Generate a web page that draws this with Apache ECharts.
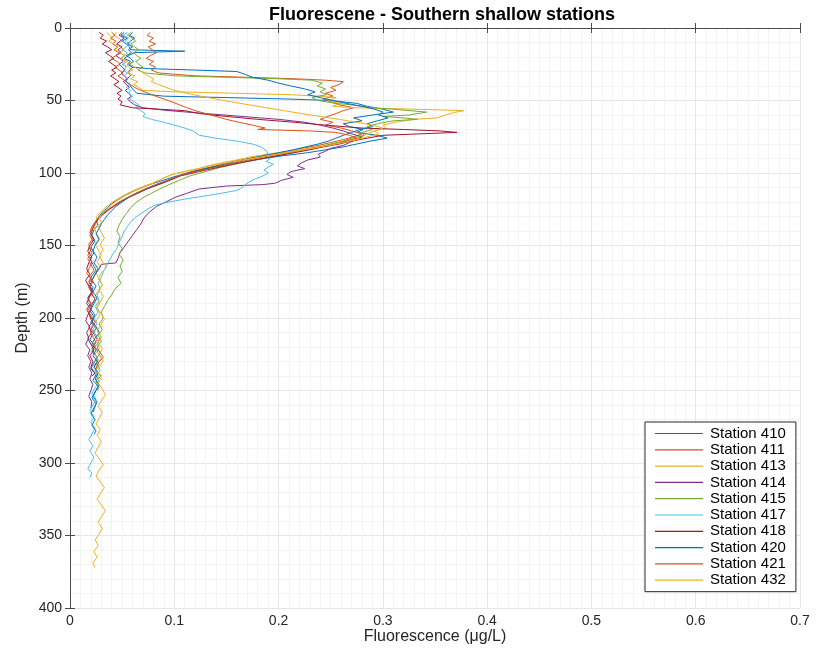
<!DOCTYPE html>
<html><head><meta charset="utf-8">
<script src="https://cdn.jsdelivr.net/npm/echarts@6/dist/echarts.min.js"></script>
<style>html,body{margin:0;padding:0;background:#fff}#c{width:822px;height:661px}</style>
</head><body><div id="c"></div>
<script>
const stationNames = ["Station 410","Station 411","Station 413","Station 414","Station 415","Station 417","Station 418","Station 420","Station 421","Station 432"];
const stationColors = ["#0072BD","#D95319","#EDB120","#7E2F8E","#77AC30","#4DBEEE","#A2142F","#0072BD","#D95319","#EDB120"];
const xTicks = [0,0.1,0.2,0.3,0.4,0.5,0.6,0.7];
const yTicks = [0,50,100,150,200,250,300,350,400];

// [fluorescence, depth]
const st410 = [[0.052,3],[0.049,5],[0.055,7],[0.050,9],[0.054,11],[0.057,13],[0.058,15],[0.110,16],[0.062,17],[0.056,19],[0.052,21],[0.058,23],[0.055,25],[0.060,27],[0.056,30],[0.058,33],[0.053,36],[0.057,39],[0.060,42],[0.064,45],[0.090,47],[0.150,48],[0.210,49],[0.250,50],[0.275,52],[0.285,54],[0.300,56],[0.310,58],[0.290,60],[0.272,62],[0.280,64],[0.262,66],[0.268,68],[0.281,70],[0.275,72],[0.295,74],[0.304,76],[0.288,78],[0.275,80],[0.262,82],[0.245,84],[0.228,86],[0.205,88],[0.186,90],[0.170,92],[0.152,94],[0.138,96],[0.122,98],[0.112,100],[0.098,103],[0.085,106],[0.072,109],[0.062,112],[0.054,115],[0.047,118],[0.040,121],[0.036,124],[0.031,127],[0.028,130],[0.025,133],[0.027,136],[0.023,139],[0.021,143],[0.024,147],[0.020,151],[0.023,155],[0.019,159],[0.022,163],[0.025,167],[0.021,171],[0.018,175],[0.022,179],[0.020,183],[0.024,187],[0.021,191],[0.019,195],[0.023,199],[0.020,203],[0.025,207],[0.022,211],[0.019,215],[0.024,219],[0.021,223],[0.026,227],[0.023,231],[0.020,235],[0.025,239],[0.022,243],[0.027,247],[0.024,251],[0.021,255],[0.025,259],[0.023,263],[0.022,265]];
const st411 = [[0.077,3],[0.074,5],[0.080,7],[0.076,9],[0.082,11],[0.075,13],[0.079,15],[0.083,17],[0.077,19],[0.073,21],[0.080,23],[0.076,25],[0.082,27],[0.078,29],[0.085,31],[0.120,33],[0.170,34],[0.215,35],[0.245,36],[0.262,37],[0.258,39],[0.250,41],[0.255,43],[0.245,45],[0.252,47],[0.243,49],[0.250,51],[0.258,53],[0.272,55],[0.262,57],[0.255,59],[0.247,61],[0.240,63],[0.252,65],[0.245,67],[0.260,69],[0.270,71],[0.280,73],[0.272,75],[0.262,77],[0.250,79],[0.238,81],[0.222,83],[0.210,85],[0.195,87],[0.178,89],[0.165,91],[0.150,93],[0.140,95],[0.128,97],[0.118,99],[0.108,101],[0.098,104],[0.088,107],[0.076,110],[0.066,113],[0.058,116],[0.050,119],[0.044,122],[0.037,125],[0.032,128],[0.027,131],[0.024,134],[0.021,137],[0.019,141],[0.022,145],[0.018,149],[0.020,153],[0.017,157],[0.021,161],[0.019,165],[0.016,169],[0.020,173],[0.018,177],[0.022,181],[0.019,185],[0.017,189],[0.021,193],[0.018,197],[0.020,201],[0.023,205],[0.019,209],[0.022,213],[0.025,217],[0.021,221],[0.024,225],[0.027,229],[0.023,233],[0.026,237],[0.030,240],[0.025,243],[0.027,245]];
const st413 = [[0.045,3],[0.042,5],[0.047,7],[0.050,9],[0.044,11],[0.048,13],[0.052,15],[0.047,17],[0.053,19],[0.049,21],[0.055,23],[0.051,25],[0.056,27],[0.060,29],[0.055,31],[0.062,33],[0.058,35],[0.065,37],[0.061,39],[0.066,41],[0.070,43],[0.100,44],[0.160,45],[0.210,46],[0.240,47],[0.255,48],[0.248,50],[0.258,52],[0.252,54],[0.275,55],[0.330,56],[0.378,57],[0.370,58],[0.360,60],[0.352,62],[0.330,63],[0.312,65],[0.300,67],[0.303,69],[0.292,71],[0.285,73],[0.280,75],[0.270,77],[0.258,79],[0.245,81],[0.228,83],[0.210,85],[0.190,87],[0.172,89],[0.160,91],[0.145,93],[0.132,95],[0.124,97],[0.110,99],[0.098,101],[0.088,104],[0.079,107],[0.068,110],[0.058,113],[0.050,116],[0.043,119],[0.037,122],[0.032,125],[0.028,128],[0.025,131],[0.027,134],[0.023,137],[0.025,141],[0.028,145],[0.024,149],[0.027,153],[0.030,157],[0.026,161],[0.029,165],[0.025,169],[0.028,173],[0.031,177],[0.027,181],[0.024,185],[0.028,189],[0.025,193],[0.029,197],[0.026,201],[0.023,205],[0.027,209],[0.030,213],[0.026,217],[0.028,221],[0.024,225],[0.027,229],[0.025,233],[0.026,235]];
const st414 = [[0.050,3],[0.047,5],[0.052,7],[0.048,9],[0.045,11],[0.050,13],[0.046,15],[0.049,17],[0.044,19],[0.048,21],[0.051,23],[0.047,25],[0.050,27],[0.053,29],[0.049,31],[0.052,33],[0.055,35],[0.051,37],[0.054,39],[0.057,41],[0.053,43],[0.056,45],[0.059,47],[0.055,49],[0.058,51],[0.062,53],[0.070,55],[0.095,57],[0.130,59],[0.165,61],[0.200,63],[0.225,65],[0.240,67],[0.252,69],[0.262,71],[0.270,73],[0.280,75],[0.275,77],[0.268,79],[0.262,81],[0.250,83],[0.245,85],[0.238,87],[0.240,89],[0.228,91],[0.222,93],[0.218,95],[0.225,97],[0.212,99],[0.208,101],[0.214,103],[0.203,105],[0.197,107],[0.185,108],[0.150,109],[0.124,111],[0.112,114],[0.100,117],[0.092,120],[0.083,123],[0.076,127],[0.071,131],[0.068,135],[0.064,139],[0.060,143],[0.056,147],[0.052,151],[0.048,155],[0.046,159],[0.044,162],[0.030,163],[0.028,166],[0.024,170],[0.021,174],[0.019,178],[0.022,182],[0.018,186],[0.016,190],[0.020,194],[0.017,198],[0.015,202],[0.019,206],[0.016,210],[0.018,214],[0.015,218],[0.019,222],[0.017,226],[0.020,230],[0.018,234],[0.021,238],[0.019,242],[0.022,246],[0.020,250],[0.018,254],[0.021,258],[0.020,262]];
const st415 = [[0.058,3],[0.055,5],[0.060,7],[0.063,9],[0.058,11],[0.062,13],[0.066,15],[0.061,17],[0.064,19],[0.068,21],[0.063,23],[0.066,25],[0.070,27],[0.065,29],[0.072,31],[0.100,33],[0.150,34],[0.200,35],[0.232,36],[0.242,38],[0.237,40],[0.245,42],[0.240,44],[0.246,46],[0.232,48],[0.238,50],[0.255,52],[0.270,53],[0.290,55],[0.310,56],[0.342,58],[0.325,60],[0.300,61],[0.320,62],[0.333,63],[0.310,64],[0.295,66],[0.285,68],[0.290,70],[0.280,72],[0.282,74],[0.270,76],[0.262,78],[0.250,80],[0.240,82],[0.225,84],[0.212,86],[0.198,88],[0.185,90],[0.170,92],[0.158,94],[0.145,96],[0.135,98],[0.125,100],[0.115,102],[0.105,105],[0.095,108],[0.086,111],[0.078,114],[0.070,117],[0.064,120],[0.058,124],[0.054,128],[0.050,132],[0.047,136],[0.045,140],[0.048,144],[0.046,148],[0.050,152],[0.047,156],[0.051,160],[0.048,164],[0.050,168],[0.046,172],[0.049,176],[0.043,180],[0.040,184],[0.036,188],[0.033,192],[0.030,196],[0.032,200],[0.028,204],[0.031,208],[0.027,212],[0.030,216],[0.026,220],[0.029,224],[0.025,228],[0.028,232],[0.024,236],[0.027,240],[0.025,244],[0.028,248],[0.026,250]];
const st417 = [[0.055,3],[0.051,5],[0.056,7],[0.053,9],[0.057,11],[0.054,13],[0.050,15],[0.055,17],[0.052,19],[0.049,21],[0.053,23],[0.050,25],[0.054,27],[0.051,29],[0.055,31],[0.052,33],[0.056,35],[0.053,37],[0.057,39],[0.054,41],[0.058,43],[0.056,45],[0.060,47],[0.057,49],[0.062,51],[0.066,53],[0.063,55],[0.068,57],[0.072,59],[0.070,61],[0.078,63],[0.090,65],[0.100,67],[0.110,69],[0.118,71],[0.124,74],[0.140,76],[0.160,78],[0.175,80],[0.183,82],[0.187,84],[0.190,86],[0.186,88],[0.192,90],[0.188,92],[0.195,94],[0.190,96],[0.186,98],[0.190,100],[0.185,102],[0.178,104],[0.172,106],[0.168,108],[0.165,110],[0.160,112],[0.145,114],[0.128,116],[0.110,118],[0.095,120],[0.082,122],[0.074,125],[0.068,128],[0.062,131],[0.058,134],[0.055,137],[0.052,140],[0.050,144],[0.047,148],[0.045,152],[0.041,156],[0.038,160],[0.035,164],[0.032,168],[0.030,172],[0.027,176],[0.029,180],[0.026,184],[0.028,188],[0.024,192],[0.027,196],[0.023,200],[0.026,204],[0.022,208],[0.025,212],[0.028,216],[0.024,220],[0.027,224],[0.030,228],[0.026,232],[0.029,236],[0.025,240],[0.028,244],[0.024,248],[0.021,252],[0.025,256],[0.022,260],[0.019,264],[0.023,268],[0.020,272],[0.024,276],[0.021,280],[0.018,284],[0.022,288],[0.019,292],[0.023,296],[0.020,300],[0.017,304],[0.021,307],[0.019,310]];
const st418 = [[0.028,3],[0.032,5],[0.029,7],[0.035,9],[0.031,11],[0.036,13],[0.040,15],[0.034,17],[0.038,19],[0.042,21],[0.037,23],[0.041,25],[0.045,27],[0.040,29],[0.044,31],[0.039,33],[0.043,35],[0.047,37],[0.042,39],[0.046,41],[0.050,43],[0.045,45],[0.049,47],[0.046,49],[0.050,51],[0.048,53],[0.060,55],[0.085,56],[0.110,57],[0.124,59],[0.150,61],[0.180,63],[0.215,65],[0.245,67],[0.280,69],[0.320,70],[0.355,71],[0.371,72],[0.335,73],[0.300,74],[0.285,76],[0.270,78],[0.258,80],[0.243,82],[0.230,84],[0.215,86],[0.200,88],[0.184,90],[0.170,92],[0.156,94],[0.143,96],[0.130,98],[0.118,100],[0.106,102],[0.096,105],[0.085,108],[0.074,111],[0.065,114],[0.056,117],[0.048,120],[0.042,123],[0.036,126],[0.031,129],[0.027,132],[0.024,135],[0.022,138],[0.020,142],[0.023,146],[0.019,150],[0.017,154],[0.021,158],[0.018,162],[0.016,166],[0.019,170],[0.015,174],[0.018,178],[0.021,182],[0.017,186],[0.020,190],[0.016,194],[0.019,198],[0.022,202],[0.018,206],[0.021,210],[0.017,214],[0.020,218],[0.023,222],[0.019,226],[0.022,230],[0.020,234],[0.024,238],[0.021,240]];
const st420 = [[0.060,3],[0.057,5],[0.062,7],[0.058,9],[0.055,11],[0.060,13],[0.056,15],[0.059,17],[0.054,19],[0.058,21],[0.061,23],[0.057,25],[0.060,27],[0.075,28],[0.120,29],[0.160,30],[0.168,32],[0.175,34],[0.190,36],[0.200,38],[0.212,40],[0.225,42],[0.235,44],[0.228,46],[0.240,48],[0.252,50],[0.265,52],[0.280,54],[0.292,56],[0.300,58],[0.296,60],[0.305,62],[0.295,64],[0.285,66],[0.290,68],[0.278,70],[0.270,72],[0.262,74],[0.255,76],[0.248,78],[0.238,80],[0.226,82],[0.214,84],[0.200,86],[0.186,88],[0.172,90],[0.160,92],[0.148,94],[0.136,96],[0.125,98],[0.114,100],[0.104,102],[0.094,105],[0.083,108],[0.073,111],[0.064,114],[0.056,117],[0.050,120],[0.044,123],[0.040,126],[0.036,129],[0.033,132],[0.030,135],[0.028,138],[0.025,142],[0.028,146],[0.024,150],[0.022,154],[0.026,158],[0.023,162],[0.027,166],[0.024,170],[0.021,174],[0.025,178],[0.022,182],[0.026,186],[0.023,190],[0.020,194],[0.024,198],[0.021,202],[0.025,206],[0.028,210],[0.024,214],[0.021,218],[0.025,222],[0.022,226],[0.026,230],[0.023,234],[0.027,238],[0.024,242],[0.028,246],[0.025,250],[0.022,254],[0.026,258],[0.023,262],[0.020,266],[0.024,270],[0.021,274],[0.025,278],[0.023,280]];
const st421 = [[0.040,3],[0.043,5],[0.039,7],[0.044,9],[0.041,11],[0.046,13],[0.042,15],[0.047,17],[0.044,19],[0.040,21],[0.045,23],[0.048,25],[0.043,27],[0.047,29],[0.051,31],[0.046,33],[0.050,35],[0.054,37],[0.058,39],[0.062,41],[0.068,43],[0.075,45],[0.082,47],[0.090,49],[0.098,51],[0.105,53],[0.112,55],[0.120,57],[0.130,59],[0.140,61],[0.150,63],[0.162,65],[0.175,67],[0.187,69],[0.180,70],[0.230,71],[0.255,72],[0.268,74],[0.275,76],[0.265,78],[0.255,80],[0.240,82],[0.225,84],[0.208,86],[0.192,88],[0.178,90],[0.165,92],[0.152,94],[0.140,96],[0.128,98],[0.115,100],[0.104,102],[0.094,105],[0.082,108],[0.072,111],[0.063,114],[0.055,117],[0.047,120],[0.041,123],[0.035,126],[0.030,129],[0.026,132],[0.023,135],[0.021,139],[0.019,143],[0.022,147],[0.018,151],[0.021,155],[0.017,159],[0.020,163],[0.023,167],[0.019,171],[0.022,175],[0.018,179],[0.021,183],[0.024,187],[0.020,191],[0.017,195],[0.021,199],[0.024,203],[0.020,207],[0.023,211],[0.026,215],[0.022,219],[0.028,223],[0.032,227],[0.027,231],[0.025,235]];
const st432 = [[0.035,3],[0.038,5],[0.041,7],[0.037,9],[0.042,11],[0.046,13],[0.043,15],[0.048,17],[0.052,19],[0.049,21],[0.055,23],[0.058,25],[0.062,27],[0.066,29],[0.070,31],[0.075,33],[0.080,35],[0.078,37],[0.085,39],[0.092,41],[0.100,43],[0.112,45],[0.125,47],[0.140,49],[0.155,51],[0.172,53],[0.188,55],[0.205,57],[0.222,59],[0.240,61],[0.258,63],[0.275,65],[0.290,67],[0.300,69],[0.292,71],[0.296,73],[0.285,75],[0.275,77],[0.262,79],[0.248,81],[0.232,83],[0.215,85],[0.198,87],[0.182,89],[0.166,91],[0.150,93],[0.135,95],[0.122,97],[0.110,99],[0.098,101],[0.088,104],[0.080,107],[0.070,110],[0.060,113],[0.052,116],[0.045,119],[0.040,122],[0.035,125],[0.031,128],[0.028,131],[0.030,134],[0.027,137],[0.030,141],[0.033,145],[0.029,149],[0.032,153],[0.028,157],[0.031,161],[0.035,165],[0.030,169],[0.027,173],[0.031,177],[0.028,181],[0.032,185],[0.029,189],[0.026,193],[0.030,197],[0.033,201],[0.029,205],[0.026,209],[0.030,213],[0.027,217],[0.031,221],[0.028,225],[0.032,229],[0.029,233],[0.026,237],[0.030,241],[0.027,245],[0.031,249],[0.034,253],[0.030,257],[0.027,261],[0.031,265],[0.028,269],[0.025,273],[0.029,277],[0.026,281],[0.030,285],[0.027,289],[0.024,293],[0.028,297],[0.032,301],[0.028,305],[0.025,309],[0.029,313],[0.033,317],[0.029,321],[0.026,325],[0.030,329],[0.034,333],[0.030,337],[0.027,341],[0.031,345],[0.028,349],[0.024,353],[0.027,357],[0.023,361],[0.026,365],[0.022,369],[0.024,372]];

const stationData = [st410,st411,st413,st414,st415,st417,st418,st420,st421,st432];

const FONT = '"Liberation Sans", Arial, Helvetica, sans-serif';
const chart = echarts.init(document.getElementById('c'), null, {renderer:'canvas'});
const axisLineStyle = {color:'#4a4a4a', width:1};
const option = {
  backgroundColor:'#ffffff',
  animation:false,
  title:{text:'Fluorescene - Southern shallow stations', left:437, top:1, textAlign:'center',
    textStyle:{fontFamily:FONT, fontSize:18, fontWeight:'bold', color:'#000'}},
  grid:{left:70, right:22, top:28, bottom:53, containLabel:false},
  legend:{
    orient:'vertical', left:645, top:422, data:stationNames,
    icon:'rect', itemWidth:48, itemHeight:1.2, itemGap:1.3,
    padding:[4,10,4,10], backgroundColor:'#fff', borderColor:'#262626', borderWidth:1, borderRadius:0,
    textStyle:{fontFamily:FONT, fontSize:15, color:'#000', lineHeight:15, padding:[0,0,0,2]}
  },
  xAxis:[{
    type:'value', min:xTicks[0], max:xTicks[xTicks.length-1], interval:0.1, position:'bottom',
    name:'Fluorescence (\u03bcg/L)', nameLocation:'middle', nameGap:21, nameMoveOverlap:false,
    nameTextStyle:{fontFamily:FONT, fontSize:16, color:'#262626'},
    axisLine:{show:true, lineStyle:axisLineStyle},
    axisTick:{show:true, inside:true, length:5, lineStyle:axisLineStyle},
    axisLabel:{fontFamily:FONT, fontSize:14, color:'#262626', margin:6,
      formatter:v=>String(Math.round(v*10)/10)},
    splitLine:{show:true, lineStyle:{color:'#e6e6e6', width:1}},
    minorTick:{show:false, splitNumber:10},
    minorSplitLine:{show:true, lineStyle:{color:'#f3f3f3', width:1}}
  },{
    type:'value', min:0, max:0.7, interval:0.1, position:'top',
    axisLine:{show:true, lineStyle:axisLineStyle},
    axisTick:{show:true, inside:true, length:5, lineStyle:axisLineStyle},
    axisLabel:{show:false}, splitLine:{show:false}
  }],
  yAxis:[{
    type:'value', min:yTicks[0], max:yTicks[yTicks.length-1], interval:50, inverse:true, position:'left',
    name:'Depth (m)', nameLocation:'middle', nameGap:39, nameMoveOverlap:false,
    nameTextStyle:{fontFamily:FONT, fontSize:16, color:'#262626'},
    axisLine:{show:true, lineStyle:axisLineStyle},
    axisTick:{show:true, inside:true, length:5, lineStyle:axisLineStyle},
    axisLabel:{fontFamily:FONT, fontSize:14, color:'#262626', margin:8},
    splitLine:{show:true, lineStyle:{color:'#e6e6e6', width:1}},
    minorTick:{show:false, splitNumber:5},
    minorSplitLine:{show:true, lineStyle:{color:'#f3f3f3', width:1}}
  },{
    type:'value', min:0, max:400, interval:50, inverse:true, position:'right',
    axisLine:{show:true, lineStyle:axisLineStyle},
    axisTick:{show:true, inside:true, length:5, lineStyle:axisLineStyle},
    axisLabel:{show:false}, splitLine:{show:false}
  }],
  series: stationNames.map((n,i)=>({
    name:n, type:'line', xAxisIndex:0, yAxisIndex:0,
    data:stationData[i], symbol:'none', showSymbol:false,
    lineStyle:{width:1, color:stationColors[i]}, itemStyle:{color:stationColors[i]},
    emphasis:{disabled:true}
  }))
};
chart.setOption(option);
</script></body></html>
